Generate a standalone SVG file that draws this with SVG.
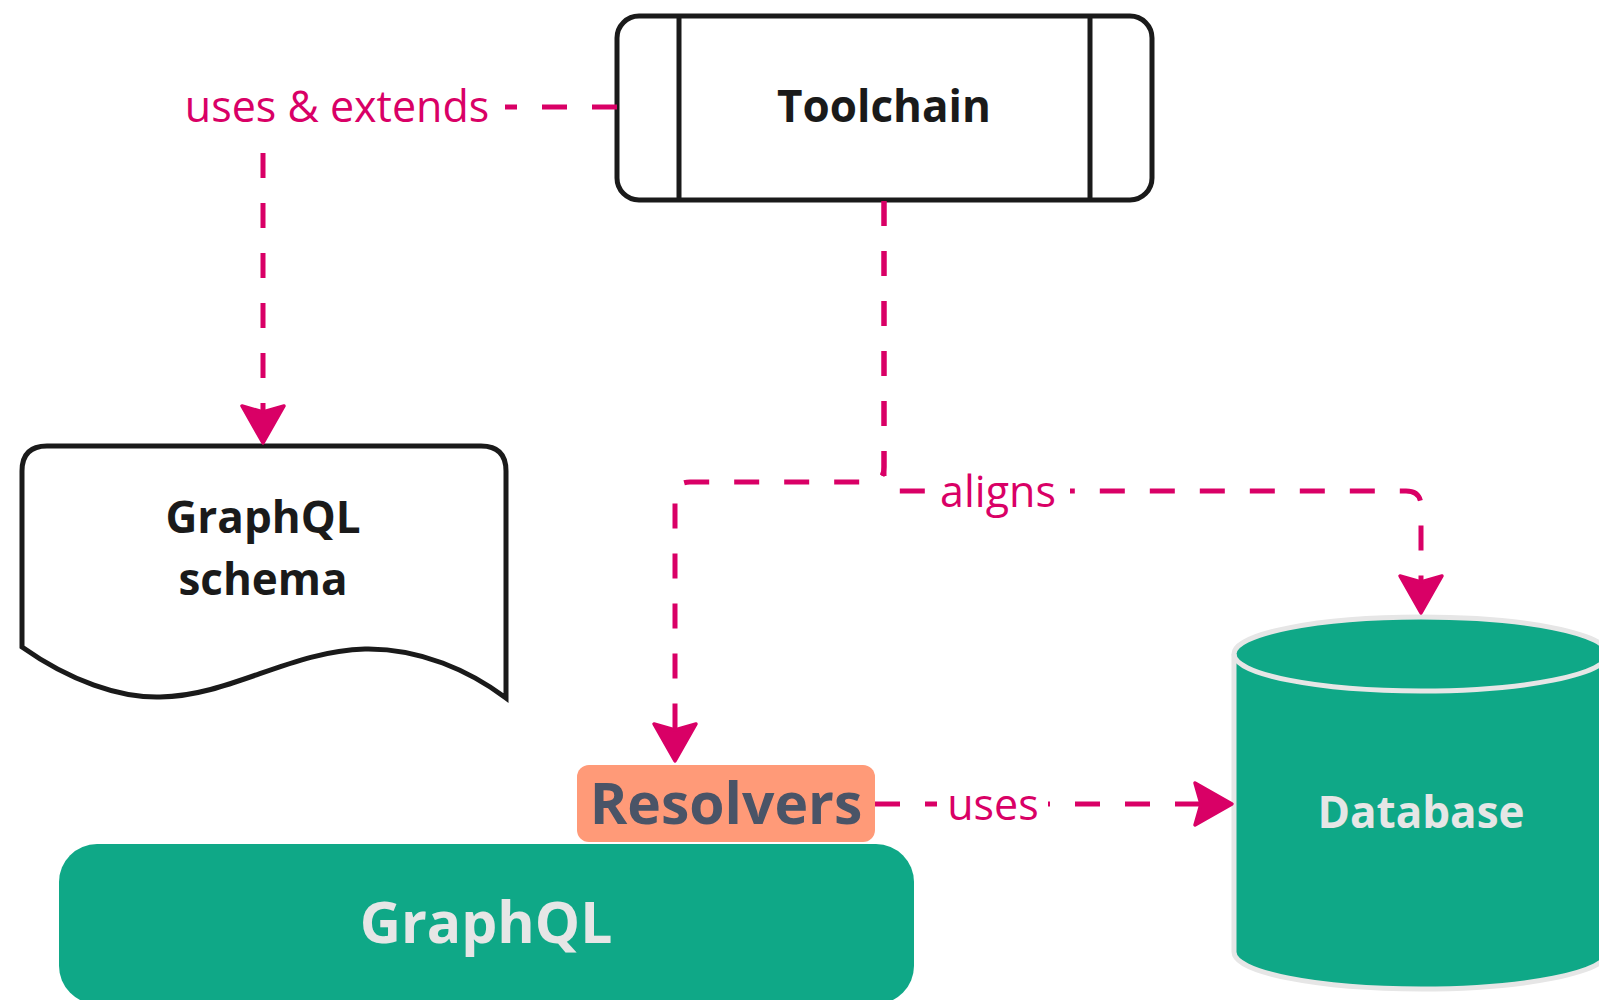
<svg xmlns="http://www.w3.org/2000/svg" width="1599" height="1000" viewBox="0 0 1599 1000">
<style>
.edge{fill:none;stroke:#d90066;stroke-width:5;stroke-dasharray:25 25}
.lbl{font-family:"Open Sans","Noto Sans",sans-serif;font-size:43px;fill:#d90066;text-anchor:middle}
.lblbg{fill:#ffffff}
.bold{font-family:"Open Sans","Noto Sans",sans-serif;font-weight:bold;text-anchor:middle}
.outline{fill:#ffffff;stroke:#1a1a1a;stroke-width:5}
</style>
<defs>
<marker id="arr" markerUnits="userSpaceOnUse" viewBox="-10 -26 46 52" refX="0" refY="0" markerWidth="46" markerHeight="52" orient="auto">
<path d="M-6,-21 L31,0 L-6,21 L0,0 Z" fill="#d90066" stroke="#d90066" stroke-width="3.5" stroke-linejoin="round"/>
</marker>
</defs>
<rect width="1599" height="1000" fill="#ffffff"/>

<g id="toolchain">
<rect class="outline" x="617" y="16" width="535" height="184" rx="22"/>
<line x1="679" y1="16" x2="679" y2="200" stroke="#1a1a1a" stroke-width="5"/>
<line x1="1090" y1="16" x2="1090" y2="200" stroke="#1a1a1a" stroke-width="5"/>
<text class="bold" x="884" y="122" font-size="44" fill="#1a1a1a">Toolchain</text>
</g>

<g id="schema">
<path class="outline" d="M22,647 V471 Q22,446 47,446 H481 Q506,446 506,471 V698 C470,671 420,648 365,649 C290,651 230,696 160,697 C120,698 70,681 22,647 Z"/>
<text class="bold" x="263" y="533" font-size="44" fill="#1a1a1a">GraphQL</text>
<text class="bold" x="263" y="595" font-size="44" fill="#1a1a1a">schema</text>
</g>

<g id="graphql">
<rect x="59" y="844" width="855" height="160" rx="38" fill="#0fa887"/>
<text class="bold" x="486" y="943" font-size="57" fill="#e6e6e6">GraphQL</text>
</g>

<g id="resolvers">
<rect x="577" y="765" width="298" height="77" rx="12" fill="#ff9a78"/>
<text class="bold" x="726" y="824" font-size="57" fill="#4a5467">Resolvers</text>
</g>

<g id="database">
<path d="M1234,654 A187,37 0 0 1 1608,654 V952 A187,37 0 0 1 1234,952 Z" fill="#0fa887" stroke="#e6e6e6" stroke-width="5"/>
<path d="M1234,654 A187,37 0 0 0 1608,654" fill="none" stroke="#e6e6e6" stroke-width="5"/>
<text class="bold" x="1421" y="828" font-size="44" fill="#e6e6e6">Database</text>
</g>

<g id="connectors">
<path class="edge" d="M617,107 H263 V412" stroke-dashoffset="0" marker-end="url(#arr)"/>
<rect class="lblbg" x="180" y="82" width="325" height="48"/>
<text class="lbl" x="337" y="122">uses &amp; extends</text>

<path class="edge" d="M884,201 V467 Q884,482 869,482 H690 Q675,482 675,497 V730" marker-end="url(#arr)"/>
<path class="edge" d="M884,201 V476 Q884,491 899,491 H1406 Q1421,491 1421,506 V582" marker-end="url(#arr)"/>
<rect class="lblbg" x="933" y="466" width="137" height="50"/>
<text class="lbl" x="998" y="507">aligns</text>

<path class="edge" d="M875,804 H1201" marker-end="url(#arr)"/>
<rect class="lblbg" x="937" y="778" width="111" height="50"/>
<text class="lbl" x="993" y="820">uses</text>
</g>
</svg>
